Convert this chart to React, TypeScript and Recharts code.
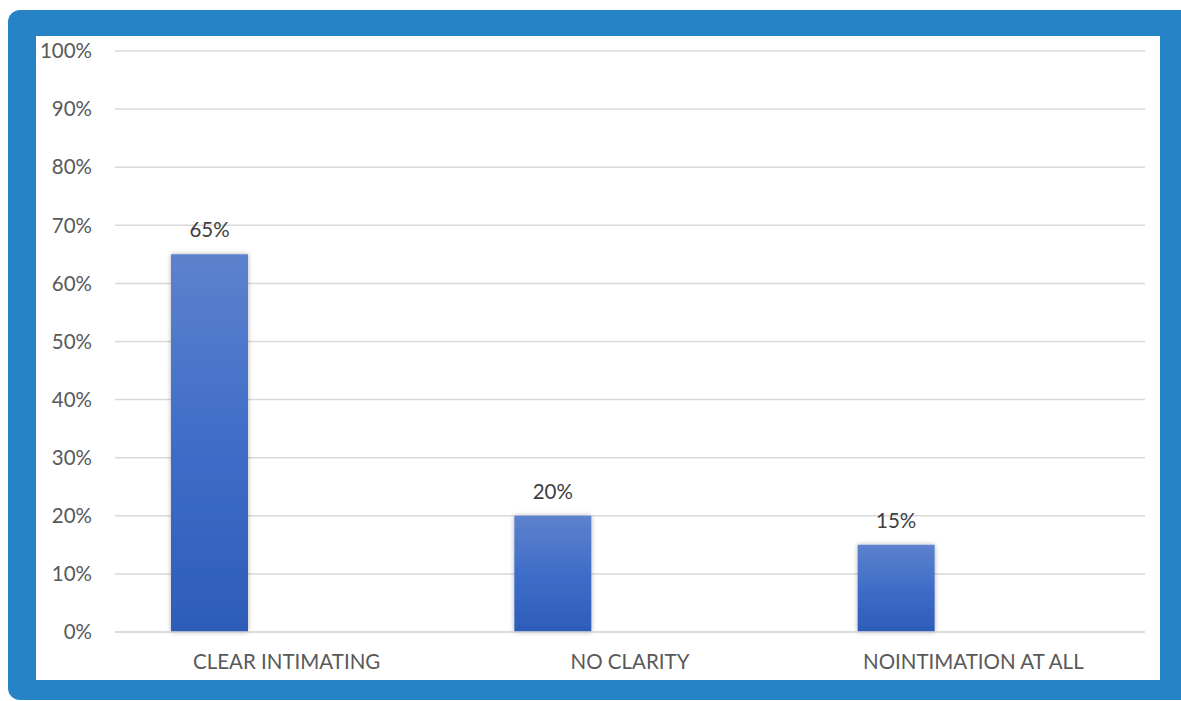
import { Bar, BarChart, CartesianGrid, LabelList, XAxis, YAxis } from "recharts";

const categories = ["CLEAR INTIMATING", "NO CLARITY", "NOINTIMATION AT ALL"];
const responses = [65, 20, 15];
// the sheet carries two more series with nothing in them, which keeps the bar at the left of each slot
const series2 = [0, 0, 0];
const series3 = [0, 0, 0];
const yTicks = [0, 10, 20, 30, 40, 50, 60, 70, 80, 90, 100];

const data = categories.map((name, i) => ({
  name,
  responses: responses[i],
  s2: series2[i],
  s3: series3[i]
}));

const font = "Lato, 'Open Sans', sans-serif";

export default function App() {
  return (
    <div
      style={{
        position: "absolute",
        left: 8,
        top: 10,
        width: 1173,
        height: 690,
        background: "#2683c6",
        borderRadius: "12px 0 0 12px",
        fontFamily: font
      }}
    >
      <div style={{ position: "absolute", left: 28, top: 26, width: 1124, height: 644, background: "#ffffff" }}>
        <BarChart
          width={1124}
          height={644}
          data={data}
          margin={{ top: 15, right: 15, bottom: 0, left: 0 }}
          barCategoryGap={56}
          barGap={0}
        >
          <defs>
            <linearGradient id="barFill" x1="0" y1="0" x2="0" y2="1">
              <stop offset="0%" stopColor="#5d82cd" />
              <stop offset="50%" stopColor="#3f6dc8" />
              <stop offset="100%" stopColor="#2d5cb8" />
            </linearGradient>
            <filter id="barShadow" x="-20%" y="-20%" width="140%" height="140%">
              <feDropShadow dx="0" dy="0" stdDeviation="2.5" floodColor="#000" floodOpacity="0.3" />
            </filter>
          </defs>
          <CartesianGrid vertical={false} stroke="#d9d9d9" strokeWidth={1.5} />
          <XAxis
            dataKey="name"
            tickLine={false}
            tickSize={0}
            tickMargin={22}
            height={48}
            axisLine={{ stroke: "#d9d9d9", strokeWidth: 1.5 }}
            tick={{ fill: "#595959", fontSize: 20.5, fontFamily: font }}
          />
          <YAxis
            domain={[0, 100]}
            ticks={yTicks}
            width={79}
            tickLine={false}
            axisLine={false}
            tickSize={0}
            tickMargin={23}
            tickFormatter={(v) => `${v}%`}
            tick={{ fill: "#595959", fontSize: 20.5, fontFamily: font }}
          />
          <Bar dataKey="responses" fill="url(#barFill)" filter="url(#barShadow)" isAnimationActive={false}>
            <LabelList
              dataKey="responses"
              position="top"
              offset={17}
              formatter={(v: number) => `${v}%`}
              style={{ fill: "#404040", fontSize: 20.5, fontFamily: font }}
            />
          </Bar>
          <Bar dataKey="s2" fill="#ed7d31" isAnimationActive={false} />
          <Bar dataKey="s3" fill="#a5a5a5" isAnimationActive={false} />
        </BarChart>
      </div>
    </div>
  );
}
